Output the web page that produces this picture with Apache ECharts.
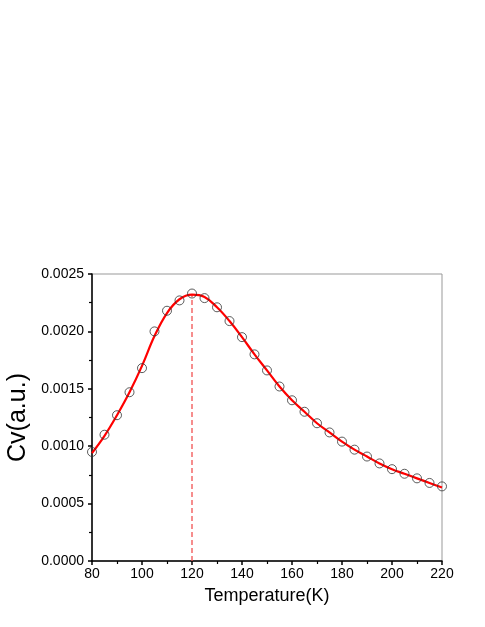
<!DOCTYPE html>
<html>
<head>
<meta charset="utf-8">
<script src="https://cdn.jsdelivr.net/npm/echarts@6/dist/echarts.min.js"></script>
<style>
  html, body { margin: 0; padding: 0; background: #fff; }
  #main { width: 485px; height: 627px; }
</style>
</head>
<body>
<div id="main"></div>
<script>
// temperature (K) and measured Cv
var temps = [80, 85, 90, 95, 100, 105, 110, 115, 120, 125, 130, 135, 140, 145, 150,
  155, 160, 165, 170, 175, 180, 185, 190, 195, 200, 205, 210, 215, 220];
var cv = [0.00095, 0.0011, 0.00127, 0.00147, 0.00168, 0.0020, 0.00218, 0.00227, 0.00233,
  0.00229, 0.00221, 0.00209, 0.00195, 0.0018, 0.00166, 0.00152, 0.0014, 0.0013, 0.0012,
  0.00112, 0.00104, 0.00097, 0.00091, 0.00085, 0.0008, 0.00076, 0.00072, 0.00068, 0.00065];
// fitted curve (red line)
var cvFit = [0.00094, 0.00109, 0.00127, 0.00147, 0.0017, 0.00196, 0.00216, 0.00228, 0.00232,
  0.0023, 0.00221, 0.00209, 0.00195, 0.0018, 0.00166, 0.00152, 0.0014, 0.0013, 0.0012,
  0.00112, 0.00104, 0.00097, 0.00091, 0.00085, 0.0008, 0.00076, 0.00072, 0.00068, 0.00064];
// peak marker
var peakT = 120;
var peakCv = 0.00232;

var xTicks = [80, 100, 120, 140, 160, 180, 200, 220];
var yTicks = ['0.0000', '0.0005', '0.0010', '0.0015', '0.0020', '0.0025'];

var pts = temps.map(function (t, i) { return [t, cv[i]]; });
var fit = temps.map(function (t, i) { return [t, cvFit[i]]; });

var chart = echarts.init(document.getElementById('main'), null, { renderer: 'canvas' });

var font = 'Liberation Sans, Arial, sans-serif';

var option = {
  animation: false,
  textStyle: { fontFamily: font },
  grid: {
    left: 92, right: 43, top: 274, bottom: 66,
    outerBoundsMode: 'none',
    show: true, borderColor: '#999', borderWidth: 1
  },
  xAxis: {
    type: 'value',
    min: 80, max: 220, interval: 20,
    name: 'Temperature(K)',
    nameLocation: 'middle',
    nameGap: 26,
    nameTextStyle: { fontSize: 18, color: '#000', fontFamily: font },
    splitLine: { show: false },
    axisLine: { lineStyle: { color: '#000', width: 1.5 } },
    axisTick: { length: 4, lineStyle: { color: '#000', width: 1.5 } },
    minorTick: { show: true, splitNumber: 2, length: 3, lineStyle: { color: '#000', width: 1.2 } },
    axisLabel: { fontSize: 14, color: '#000', margin: 6, fontFamily: font,
      formatter: function (v) { return xTicks.indexOf(v) >= 0 ? String(v) : ''; } }
  },
  yAxis: {
    type: 'value',
    min: 0, max: 0.0025, interval: 0.0005,
    name: 'Cv(a.u.)',
    nameLocation: 'middle',
    nameGap: 58,
    nameTextStyle: { fontSize: 25, color: '#000', fontFamily: font },
    splitLine: { show: false },
    axisLine: { lineStyle: { color: '#000', width: 1.5 } },
    axisTick: { length: 4, lineStyle: { color: '#000', width: 1.5 } },
    minorTick: { show: true, splitNumber: 2, length: 3, lineStyle: { color: '#000', width: 1.2 } },
    axisLabel: { fontSize: 14, color: '#000', margin: 8, fontFamily: font,
      formatter: function (v) { return yTicks[Math.round(v / 0.0005)]; } }
  },
  series: [
    {
      type: 'line',
      data: [[peakT, 0], [peakT, peakCv]],
      symbol: 'none',
      lineStyle: { color: '#f25050', width: 1.3, type: [5, 3] },
      z: 1
    },
    {
      type: 'line',
      data: fit,
      smooth: 0.4,
      symbol: 'none',
      lineStyle: { color: '#ff0000', width: 2.2 },
      z: 2
    },
    {
      type: 'scatter',
      data: pts,
      symbol: 'circle',
      symbolSize: 9,
      itemStyle: { color: 'rgba(0,0,0,0)', borderColor: '#333', borderWidth: 1 },
      z: 3
    }
  ]
};

chart.setOption(option);
</script>
</body>
</html>
